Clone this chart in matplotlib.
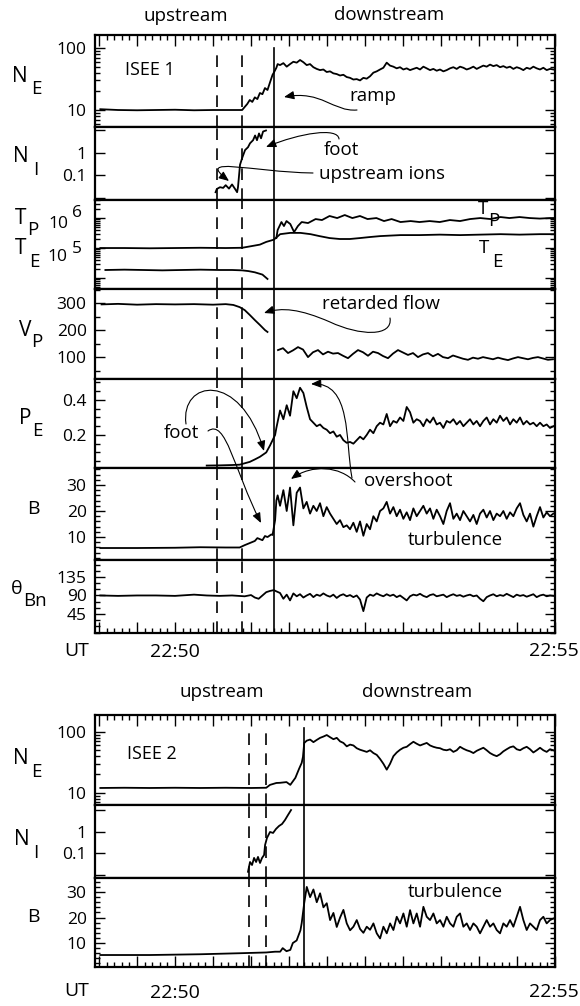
import numpy as np
import matplotlib
matplotlib.use("Agg")
import matplotlib.pyplot as plt
from matplotlib.transforms import Affine2D
from matplotlib.patches import FancyArrowPatch
from matplotlib.path import Path
from matplotlib.ticker import MultipleLocator, NullFormatter

plt.rcParams['font.family'] = ['Open Sans', 'DejaVu Sans']

# ---------------------------------------------------------------------------
# Time axis: seconds after 22:50:00 UT
# ---------------------------------------------------------------------------
T_MIN, T_MAX = -63.2, 300.0
DOWN1 = (82.9, 298.7)     # evenly sampled downstream stretch, ISEE 1
DOWN2 = (104.0, 298.7)    # evenly sampled downstream stretch, ISEE 2

# Shock markers (s): dashed = foot boundaries, solid = ramp
ISEE1_DASHED = [33, 53]
ISEE1_RAMP = 78
ISEE2_DASHED = [58, 72]
ISEE2_RAMP = 102

# ---------------- ISEE 1 -----------------
# Electron density N_E (cm^-3)
ne1_lead_t = [-59, -45, -30, -15, 0, 15, 30, 45, 53, 55, 57, 59, 61, 63, 65, 67,
              69, 71, 73, 75, 77, 78, 80, 81]
ne1_lead_v = [10.3, 10, 9.9, 10, 10.1, 9.9, 10, 10, 10, 11.2, 12.5, 14.5, 13.5, 16,
              15, 18.8, 18, 22.6, 21, 28, 37, 40, 48, 55]
ne1_down_v = [53, 57, 50, 55, 60, 58, 64, 59, 53, 55, 49, 46, 44, 45, 41, 42, 39, 38,
              36, 37, 34, 33, 31, 31.5, 30, 33, 32, 35, 40, 42, 45, 48, 58, 52, 50,
              47, 49, 45, 47, 44, 46, 48, 45, 50, 47, 44, 46, 43, 45, 42, 44, 47, 49,
              46, 50, 48, 45, 47, 50, 46, 49, 52, 50, 54, 51, 53, 49, 51, 48, 50, 46,
              49, 47, 44, 48, 46, 50, 47, 45, 48, 44, 46, 45]

# Ion density N_I (upstream / foot ions)
ni1_t = [32, 33, 35.5, 38, 40, 42.6, 45, 47.4, 49, 49.7, 51.3, 53, 55.3, 57.6, 59.2,
         61.6, 63.2, 64.7, 66.3, 67.9, 69.5, 71.8]
ni1_v = [0.018, 0.025, 0.03, 0.028, 0.037, 0.026, 0.04, 0.025, 0.018, 0.03, 0.3, 0.6,
         1.35, 1.8, 2.7, 3.7, 6, 3.7, 7.4, 4.5, 9, 10]

# Electron temperature T_E (K)
te1_t = [-59, -40, -20, 0, 20, 40, 53, 60, 67, 72, 78, 83, 91, 99, 107, 114, 122,
         130, 138, 146, 154, 162, 170, 178, 193, 209, 225, 241, 257, 272, 288, 299]
te1_v = [1.0e5, 1.0e5, 0.98e5, 1.0e5, 1.02e5, 1.0e5, 1.02e5, 1.15e5, 1.3e5, 1.6e5,
         1.9e5, 2.9e5, 3.2e5, 3.2e5, 2.9e5, 2.5e5, 2.15e5, 2.0e5, 2.0e5, 2.15e5,
         2.33e5, 2.5e5, 2.6e5, 2.7e5, 2.7e5, 2.8e5, 2.7e5, 2.8e5, 2.9e5, 2.8e5,
         2.9e5, 2.9e5]

# Proton temperature T_P (K): upstream and downstream pieces
tp1_up_t = [-55, -40, -25, -10, 5, 20, 35, 45, 53, 58, 63, 69, 73]
tp1_up_v = [1.85e4, 1.9e4, 1.85e4, 1.8e4, 1.85e4, 1.9e4, 1.85e4, 1.85e4, 1.8e4,
            1.7e4, 1.55e4, 1.3e4, 9.3e3]
tp1_dn_t = [80, 81, 84, 86, 88, 91, 94, 97, 100, 105, 111, 116, 122, 128, 134, 140,
            146, 152, 159, 165, 171, 178, 186, 193, 201, 209, 217, 225, 233, 241,
            249, 257, 264, 272, 280, 288, 296, 300]
tp1_dn_v = [2.15e5, 3.98e5, 7.36e5, 5.41e5, 7.94e5, 6.31e5, 3.41e5, 5.41e5, 7.36e5,
            6.81e5, 9.26e5, 8.58e5, 1.17e6, 1.0e6, 1.26e6, 1.0e6, 1.17e6, 9.26e5,
            1.0e6, 7.94e5, 9.26e5, 7.36e5, 7.94e5, 7.36e5, 7.94e5, 7.36e5, 8.58e5,
            7.94e5, 9.26e5, 1.0e6, 9.26e5, 1.08e6, 1.0e6, 1.08e6, 1.0e6, 9.6e5,
            1.0e6, 1.0e6]

# Proton flow speed V_P (km/s)
vp1_up_t = [-58, -45, -30, -15, 0, 15, 30, 40, 46, 51, 55, 59, 63, 67, 71, 73]
vp1_up_v = [295, 297, 294, 296, 295, 296, 294, 296, 293, 285, 274, 256, 237, 219,
            200, 193]
VP1_DOWN = (81.3, 298.4)
vp1_down_v = [126, 133, 115, 125, 137, 128, 100, 118, 126, 110, 120, 113, 115, 105,
              96, 112, 126, 118, 105, 120, 115, 104, 96, 113, 126, 117, 108, 115,
              100, 110, 115, 103, 112, 100, 96, 106, 100, 94, 90, 98, 94, 100, 96,
              92, 98, 93, 89, 95, 100, 96, 92, 97, 100, 95, 90, 92]

# Electron pressure P_E (nPa)
pe1_lead_t = [25, 35, 45, 51, 55, 59, 63, 67, 70, 72, 75, 77, 79, 80]
pe1_lead_v = [0.025, 0.026, 0.028, 0.03, 0.038, 0.046, 0.06, 0.075, 0.09, 0.10, 0.14,
              0.17, 0.2, 0.24]
pe1_down_v = [0.34, 0.29, 0.37, 0.31, 0.45, 0.41, 0.47, 0.44, 0.36, 0.29, 0.27, 0.25,
              0.26, 0.24, 0.23, 0.21, 0.22, 0.19, 0.2, 0.17, 0.155, 0.16, 0.15, 0.17,
              0.19, 0.175, 0.2, 0.23, 0.21, 0.25, 0.27, 0.26, 0.32, 0.25, 0.28, 0.27,
              0.30, 0.28, 0.36, 0.33, 0.27, 0.29, 0.28, 0.25, 0.29, 0.27, 0.30, 0.26,
              0.27, 0.24, 0.28, 0.27, 0.29, 0.26, 0.28, 0.25, 0.27, 0.29, 0.26, 0.28,
              0.25, 0.28, 0.3, 0.26, 0.29, 0.27, 0.31, 0.28, 0.3, 0.26, 0.29, 0.27,
              0.30, 0.26, 0.28, 0.26, 0.27, 0.25, 0.27, 0.25, 0.26, 0.24, 0.25]

# Magnetic field magnitude B (nT)
b1_lead_t = [-59, -30, 0, 20, 40, 51, 55, 59, 63, 65, 69, 71, 73, 76, 77, 79, 80, 81]
b1_lead_v = [5.8, 5.8, 5.9, 6.1, 6.0, 6.0, 6.9, 7.7, 8.5, 9.6, 8.8, 10.4, 10, 11,
             10.8, 16.5, 24, 26]
b1_down_v = [22, 28, 20, 29, 14.5, 27, 29, 21, 23.5, 19, 22, 20, 23, 18, 21.5, 19, 17,
             15, 16.5, 13.8, 14.5, 13, 15.5, 12, 16, 10.5, 15, 13, 18, 16, 20, 21,
             23.5, 19, 21.5, 18, 20.5, 17, 19.5, 16.5, 21, 18, 20, 22, 19, 21, 17,
             20.5, 18, 15, 20, 23, 17, 19, 16.5, 20, 18, 16, 18.5, 15, 19, 20.5,
             17.5, 20, 16.5, 19, 18, 20, 17, 19.5, 18, 21, 23, 18.5, 16, 19, 14, 18,
             21.5, 17.5, 19.5, 18, 19]

# Shock normal angle theta_Bn (deg)
th1_lead_t = [-59, -45, -30, -15, 0, 10, 15, 25, 35, 45, 55, 60, 63, 66, 69, 72, 75,
              78, 80]
th1_lead_v = [90, 89, 90, 90, 89, 91, 92, 90, 89, 90, 88, 91, 85, 82, 90, 98, 101,
              103, 100]
th1_down_v = [96, 82, 92, 78, 95, 88, 93, 85, 90, 94, 86, 92, 89, 95, 90, 87, 92, 84,
              90, 93, 88, 91, 86, 90, 80, 52, 85, 92, 89, 95, 91, 88, 93, 89, 92, 86,
              90, 84, 78, 88, 92, 90, 94, 89, 86, 91, 93, 88, 90, 92, 86, 90, 93, 89,
              91, 87, 90, 92, 88, 90, 82, 76, 86, 90, 93, 88, 91, 89, 94, 90, 86, 92,
              89, 91, 87, 90, 93, 86, 90, 92, 88, 90, 89]

# ---------------- ISEE 2 -----------------
ne2_lead_t = [-59, -40, -20, 0, 20, 40, 60, 72, 75, 80, 83, 88, 91, 95, 98, 100, 101,
              102]
ne2_lead_v = [12, 12.1, 12, 12.1, 12, 12.1, 12, 12.1, 13.5, 14.5, 14.6, 15, 13.5, 17.6,
              25, 31, 39, 66]
ne2_down_v = [72, 75, 68, 74, 80, 84, 89, 82, 76, 80, 70, 66, 58, 62, 60, 54, 51, 49,
              47, 50, 45, 42, 36, 30, 24, 30, 40, 46, 51, 55, 57, 63, 69, 64, 60, 63,
              66, 60, 57, 55, 54, 51, 50, 52, 47, 50, 57, 53, 50, 48, 45, 49, 52, 55,
              50, 45, 42, 40, 43, 48, 52, 56, 58, 52, 50, 54, 57, 52, 46, 50, 55, 50,
              47, 52, 50]

ni2_t = [57.6, 59.2, 60.8, 62.4, 64.0, 65.5, 67.1, 68.7, 70.3, 71.1, 72.6, 75.0, 77.4,
         79.7, 82.1, 84.5, 86.8, 89.2, 91.6]
ni2_v = [0.014, 0.040, 0.029, 0.062, 0.040, 0.069, 0.036, 0.062, 0.085, 0.25, 0.53,
         1.0, 0.9, 1.38, 1.9, 2.36, 3.6, 6.2, 10.5]

b2_lead_t = [-59, -20, 20, 51, 72, 79, 83, 85, 88, 91, 93, 96, 99, 100, 102]
b2_lead_v = [5.3, 5.3, 5.6, 6.0, 6.3, 6.6, 6.6, 8, 6.8, 7.3, 10, 11, 15, 17.8, 25.7]
b2_down_v = [32, 28, 31, 26, 29.5, 24, 25.6, 19, 21.8, 16.3, 20, 23, 17.7, 15, 16.4,
             19, 15.5, 14, 16.4, 15.2, 17.7, 13.8, 11.8, 16.4, 13.8, 17.7, 15.1, 20.3,
             17.7, 21.6, 16.4, 22.9, 17.7, 21.6, 16.4, 24.2, 20.3, 19, 21.6, 17.7, 19,
             16.4, 20.3, 17.7, 16.4, 20.3, 21.6, 16.4, 17.7, 15.1, 17.7, 16.4, 13.8,
             16.4, 19, 16.4, 17.7, 15.1, 13.8, 17.7, 16.4, 19, 16.4, 20.3, 24.2, 19,
             15.1, 17.7, 16.4, 15.1, 19, 20.3, 17.7, 19, 19.6]


def joined(lead_t, lead_v, down_v, span):
    t = np.concatenate([lead_t, np.linspace(span[0], span[1], len(down_v))])
    v = np.concatenate([lead_v, down_v])
    return t, v


# ---------------------------------------------------------------------------
W, H = 580, 1006
fig = plt.figure(figsize=(W / 100, H / 100), dpi=100)
PX = Affine2D().scale(1 / W, -1 / H).translate(0, 1) + fig.transFigure

LW_DATA = 1.3
X0, X1 = 95, 555


def panel(y0, y1, ylim, log=False, top=False, bottom=False):
    ax = fig.add_axes([X0 / W, 1 - y1 / H, (X1 - X0) / W, (y1 - y0) / H])
    if log:
        ax.set_yscale('log')
    ax.set_xlim(T_MIN, T_MAX)
    ax.set_ylim(*ylim)
    for s in ax.spines.values():
        s.set_linewidth(1.6)
    ax.xaxis.set_major_locator(MultipleLocator(30))
    ax.xaxis.set_minor_locator(MultipleLocator(6))
    ax.tick_params(axis='x', which='both', direction='in', top=top, bottom=bottom,
                   labelbottom=False, labeltop=False, width=1.0)
    ax.tick_params(axis='x', which='major', length=8)
    ax.tick_params(axis='x', which='minor', length=3.5)
    ax.tick_params(axis='y', which='both', direction='in', left=True, right=True,
                   labelleft=True, labelright=False, width=1.0, labelsize=12.5, pad=6)
    ax.tick_params(axis='y', which='major', length=7)
    ax.tick_params(axis='y', which='minor', length=3.5)
    ax.yaxis.set_minor_formatter(NullFormatter())
    return ax


def markers(ax, dashed, ramp, first=False):
    ymax = 0.86 if first else 1.0
    for d in dashed:
        ax.axvline(d, ymax=ymax, color='k', lw=1.2, ls=(0, (7, 5)))
    ax.axvline(ramp, ymax=ymax, color='k', lw=1.2)


def ylin(ax, major, minor, labels):
    ax.set_yticks(major, labels)
    ax.yaxis.set_minor_locator(MultipleLocator(minor))


# ------------------------- ISEE 1 block -------------------------
ax = panel(35, 127, (5.32, 162), log=True, top=True)
ax.set_yticks([10, 100], ['10', '100'])
t, v = joined(ne1_lead_t, ne1_lead_v, ne1_down_v, DOWN1)
ax.plot(t, v, color='k', lw=LW_DATA)
markers(ax, ISEE1_DASHED, ISEE1_RAMP, first=True)

ax = panel(127, 200, (0.0081, 14.3), log=True)
ax.set_yticks([0.01, 0.1, 1, 10], ['', '0.1', '1', ''])
ax.plot(ni1_t, ni1_v, color='k', lw=LW_DATA)
markers(ax, ISEE1_DASHED, ISEE1_RAMP)

ax = panel(200, 289, (4.3e3, 4.0e6), log=True)
ax.set_yticks([1e4, 1e5, 1e6], ['', '', ''])
ax.plot(te1_t, te1_v, color='k', lw=LW_DATA)
ax.plot(tp1_up_t, tp1_up_v, color='k', lw=LW_DATA)
ax.plot(tp1_dn_t, tp1_dn_v, color='k', lw=LW_DATA)
markers(ax, ISEE1_DASHED, ISEE1_RAMP)

ax = panel(289, 379, (19, 352))
ylin(ax, [100, 200, 300], 50, ['100', '200', '300'])
ax.plot(vp1_up_t, vp1_up_v, color='k', lw=LW_DATA)
ax.plot(np.linspace(VP1_DOWN[0], VP1_DOWN[1], len(vp1_down_v)), vp1_down_v,
        color='k', lw=LW_DATA)
markers(ax, ISEE1_DASHED, ISEE1_RAMP)

ax = panel(379, 468, (0.011, 0.52))
ylin(ax, [0.2, 0.4], 0.05, ['0.2', '0.4'])
t, v = joined(pe1_lead_t, pe1_lead_v, pe1_down_v, DOWN1)
ax.plot(t, v, color='k', lw=LW_DATA)
markers(ax, ISEE1_DASHED, ISEE1_RAMP)

ax = panel(468, 560, (1.2, 36.5))
ylin(ax, [10, 20, 30], 2, ['10', '20', '30'])
t, v = joined(b1_lead_t, b1_lead_v, b1_down_v, DOWN1)
ax.plot(t, v, color='k', lw=LW_DATA)
markers(ax, ISEE1_DASHED, ISEE1_RAMP)

ax = panel(560, 633, (-1, 176), bottom=True)
ylin(ax, [45, 90, 135], 15, ['45', '90', '135'])
t, v = joined(th1_lead_t, th1_lead_v, th1_down_v, DOWN1)
ax.plot(t, v, color='k', lw=LW_DATA)
markers(ax, ISEE1_DASHED, ISEE1_RAMP)

# ------------------------- ISEE 2 block -------------------------
ax = panel(715, 805, (6.3, 190), log=True, top=True)
ax.set_yticks([10, 100], ['10', '100'])
t, v = joined(ne2_lead_t, ne2_lead_v, ne2_down_v, DOWN2)
ax.plot(t, v, color='k', lw=LW_DATA)
markers(ax, ISEE2_DASHED, ISEE2_RAMP, first=True)

ax = panel(805, 878, (0.0072, 18), log=True)
ax.set_yticks([0.01, 0.1, 1, 10], ['', '0.1', '1', ''])
ax.plot(ni2_t, ni2_v, color='k', lw=LW_DATA)
markers(ax, ISEE2_DASHED, ISEE2_RAMP)

ax = panel(878, 967, (0.6, 35.5), bottom=True)
ylin(ax, [10, 20, 30], 2, ['10', '20', '30'])
t, v = joined(b2_lead_t, b2_lead_v, b2_down_v, DOWN2)
ax.plot(t, v, color='k', lw=LW_DATA)
markers(ax, ISEE2_DASHED, ISEE2_RAMP)


# ------------------------- text -------------------------
def label(x, y, s, size=13, **kw):
    fig.text(x, y, s, transform=PX, ha='center', va='center', fontsize=size, **kw)


# quantity names (letter + subscript)
for (x, y, s, size) in [
        (20, 76, 'N', 15), (36, 89, 'E', 13.5),
        (21, 157, 'N', 15), (36, 170, 'I', 13.5),
        (21, 218, 'T', 15), (33, 230, 'P', 13.5),
        (21, 249, 'T', 15), (34, 262, 'E', 13.5),
        (25, 330, 'V', 15), (37, 342, 'P', 13.5),
        (25, 418, 'P', 15), (37, 431, 'E', 13.5),
        (33, 509, 'B', 14),
        (17, 589, 'θ', 14), (35, 601, 'Bn', 13.5),
        (21, 759, 'N', 15), (36, 772, 'E', 13.5),
        (22, 840, 'N', 15), (36, 853, 'I', 13.5),
        (33, 917, 'B', 14)]:
    label(x, y, s, size)

# temperature decade labels
label(58, 224, '10', 12.5)
label(77, 213, '6', 12.5)
label(57, 257, '10', 12.5)
label(77, 249, '5', 12.5)

# T_P / T_E curve tags
label(483, 209, 'T', 13.5)
label(494, 221, 'P', 13.5)
label(484, 248, 'T', 13.5)
label(497, 262, 'E', 13.5)

# time labels
for y_ut, y_t in [(651, 652), (991, 993)]:
    label(77, y_ut, 'UT', 14)
    label(175, y_t, '22:50', 14)
    label(554, y_t - 1, '22:55', 14)

# regions
label(186, 16, 'upstream', 13.5)
label(389, 15, 'downstream', 13.5)
label(222, 692, 'upstream', 13.5)
label(417, 692, 'downstream', 13.5)

# spacecraft
label(150, 70, 'ISEE 1', 13)
label(152, 754, 'ISEE 2', 13)

# annotations
label(373, 96, 'ramp', 13.5)
label(341, 150, 'foot', 13.5)
label(382, 174, 'upstream ions', 13.5)
label(381, 304, 'retarded flow', 13.5)
label(181, 433, 'foot', 13.5)
label(408, 481, 'overshoot', 13.5)
label(455, 540, 'turbulence', 13.5)
label(455, 892, 'turbulence', 13.5)

# annotation arrows (pixel coordinates, top-left origin)
M, C = Path.MOVETO, Path.CURVE4
arrow_paths = [
    [(357, 110), (333, 112), (322, 90), (284, 97)],                       # ramp
    [(339, 139), (338, 127), (300, 133), (266, 147)],                     # foot (N_I)
    [(313, 173), (250, 172), (195, 155), (229, 181)],                     # upstream ions
    [(390, 318), (393, 337), (360, 336), (330, 322),
     (300, 309), (282, 307), (264, 313)],                                 # retarded flow
    [(186, 424), (180, 380), (240, 370), (264, 451)],                     # foot (P_E)
    [(208, 431), (226, 418), (234, 470), (261, 523)],                     # foot (B)
    [(352, 478), (345, 440), (352, 382), (311, 384)],                     # overshoot P_E
    [(355, 482), (340, 466), (312, 464), (291, 479)],                     # overshoot B
]
for verts in arrow_paths:
    codes = [M] + [C] * (len(verts) - 1)
    arr = FancyArrowPatch(path=Path(verts, codes),
                          arrowstyle='-|>,head_length=0.6,head_width=0.25',
                          mutation_scale=10, lw=0.8, color='k', transform=PX)
    fig.add_artist(arr)

fig.savefig('out.png', dpi=100)
